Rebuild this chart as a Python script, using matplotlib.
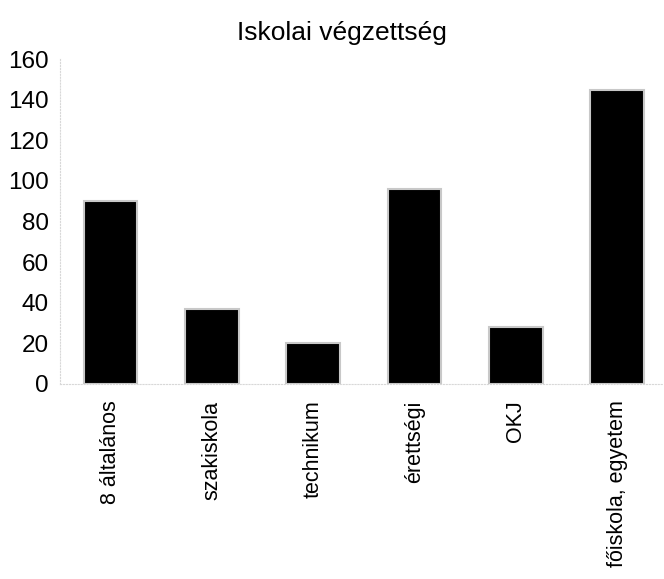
import matplotlib
matplotlib.use("Agg")
import matplotlib.pyplot as plt

categories = ["8 általános", "szakiskola", "technikum", "érettségi", "OKJ", "főiskola, egyetem"]
values = [90, 37, 20, 96, 28, 145]
yticks = [0, 20, 40, 60, 80, 100, 120, 140, 160]
title = "Iskolai végzettség"

plt.rcParams['font.family'] = ['Liberation Sans', 'DejaVu Sans']

fig = plt.figure(figsize=(6.64, 5.79), dpi=100)
ax = fig.add_axes([0.09, 0.337, 0.908, 0.561])
x = list(range(len(categories)))
ax.bar(x, values, width=0.53, color='black', edgecolor='#c8c8c8', linewidth=1.5)
ax.set_xlim(-0.5, 5.45)
ax.set_ylim(0, 160)
ax.set_yticks(yticks)
ax.set_yticklabels([str(v) for v in yticks], fontsize=17.5)
ax.set_xticks(x)
ax.set_xticklabels(categories, rotation=90, fontsize=15.5, va='top', ha='center')
ax.tick_params(axis='both', length=0)
ax.tick_params(axis='y', pad=8)
ax.tick_params(axis='x', pad=12)
for s in ['top', 'right']:
    ax.spines[s].set_visible(False)
for s in ['left', 'bottom']:
    ax.spines[s].set_color('#d8d8d8')
    ax.spines[s].set_linestyle(':')
fig.text(0.515, 0.931, title, fontsize=19, ha='center', va='baseline')
fig.savefig("out.png", dpi=100)
